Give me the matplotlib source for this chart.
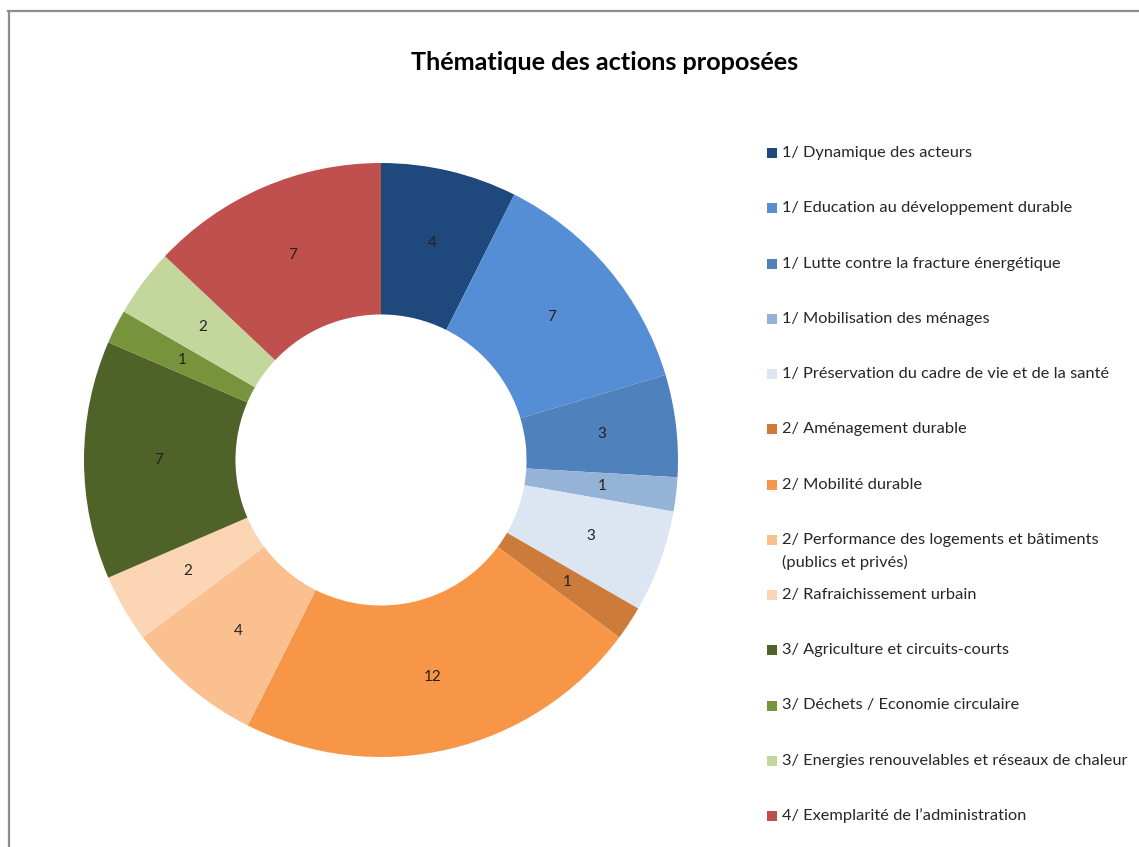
import matplotlib
matplotlib.use("Agg")
import matplotlib.pyplot as plt
from matplotlib.patches import Rectangle
from matplotlib.lines import Line2D
import numpy as np

categories = [
    "1/ Dynamique des acteurs",
    "1/ Education au développement durable",
    "1/ Lutte contre la fracture énergétique",
    "1/ Mobilisation des ménages",
    "1/ Préservation du cadre de vie et de la santé",
    "2/ Aménagement durable",
    "2/ Mobilité durable",
    "2/ Performance des logements et bâtiments\n(publics et privés)",
    "2/ Rafraichissement urbain",
    "3/ Agriculture et circuits-courts",
    "3/ Déchets / Economie circulaire",
    "3/ Energies renouvelables et réseaux de chaleur",
    "4/ Exemplarité de l\u2019administration",
]
values = [4, 7, 3, 1, 3, 1, 12, 4, 2, 7, 1, 2, 7]
colors = [
    "#1F497D", "#558ED5", "#4F81BD", "#95B3D7", "#DCE6F2",
    "#CD7B3A", "#F79646", "#FAC090", "#FCD5B5",
    "#4F6228", "#77933C", "#C3D69B", "#C0504D",
]
title = "Thématique des actions proposées"

plt.rcParams['font.family'] = ['Lato', 'DejaVu Sans']

W, H = 1139, 847
fig = plt.figure(figsize=(W / 100, H / 100), dpi=100)

# frame lines (left and top)
fig.add_artist(Line2D([9 / W, 9 / W], [0, 1 - 11 / H], transform=fig.transFigure,
                      color="#8c8c8c", lw=1.6))
fig.add_artist(Line2D([8 / W, 1], [1 - 11 / H, 1 - 11 / H], transform=fig.transFigure,
                      color="#8c8c8c", lw=1.6))

cx, cy, R = 381, 460, 297
ax = fig.add_axes([(cx - R) / W, 1 - (cy + R) / H, 2 * R / W, 2 * R / H])
wedges, _ = ax.pie(values, colors=colors, startangle=90, counterclock=False,
                   radius=1.0, wedgeprops=dict(width=0.51, linewidth=0))
ax.set_xlim(-1, 1)
ax.set_ylim(-1, 1)
ax.set_aspect('equal')
ax.axis('off')

for w, v in zip(wedges, values):
    ang = np.deg2rad((w.theta1 + w.theta2) / 2)
    r = 0.75
    ax.text(r * np.cos(ang), r * np.sin(ang), str(v), ha='center', va='center',
            fontsize=11, color='#222222')

fig.text(605 / W, 1 - 63 / H, title, ha='center', va='center',
         fontsize=18.2, fontweight='bold', color='black')

row0, step = 153, 55.25
for i, (lab, col) in enumerate(zip(categories, colors)):
    y = row0 + i * step
    fig.add_artist(Rectangle((767 / W, 1 - (y + 5) / H), 10 / W, 10 / H,
                             transform=fig.transFigure, facecolor=col, edgecolor='none'))
    for j, line in enumerate(lab.split("\n")):
        fig.text(782 / W, 1 - (y + j * 23) / H, line, ha='left', va='center',
                 fontsize=11.8, color='#262626')

fig.savefig("out.png", dpi=100, facecolor='white')
